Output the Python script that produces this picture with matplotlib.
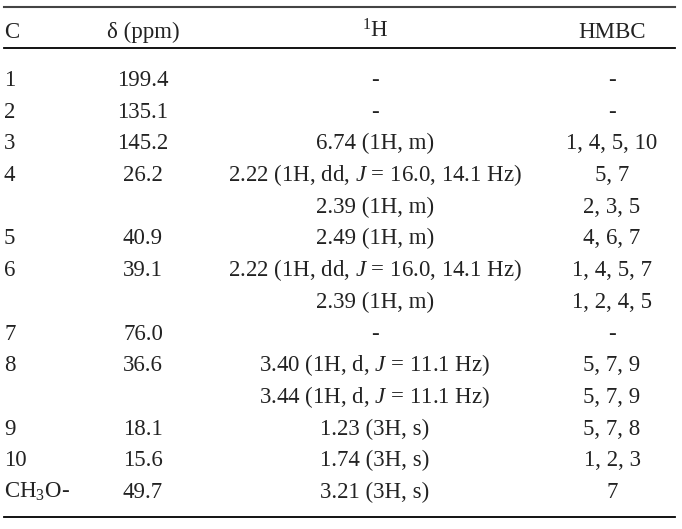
import matplotlib
matplotlib.use('Agg')
import matplotlib.pyplot as plt

plt.rcParams['font.family'] = ['Liberation Serif', 'DejaVu Serif']
plt.rcParams['mathtext.fontset'] = 'custom'
plt.rcParams['mathtext.rm'] = 'Liberation Serif'
plt.rcParams['mathtext.it'] = 'Liberation Serif:italic'

headers = ['C', 'δ (ppm)', '$^{1}$H', 'HMBC']
carbon = ['1', '2', '3', '4', '', '5', '6', '', '7', '8', '', '9', '10', 'CH$_3$O-']
shift = ['199.4', '135.1', '145.2', '26.2', '', '40.9', '39.1', '', '76.0', '36.6', '', '18.1', '15.6', '49.7']
proton = ['-', '-', '6.74 (1H, m)',
          '2.22 (1H, dd, $J$ = 16.0, 14.1 Hz)', '2.39 (1H, m)',
          '2.49 (1H, m)',
          '2.22 (1H, dd, $J$ = 16.0, 14.1 Hz)', '2.39 (1H, m)',
          '-',
          '3.40 (1H, d, $J$ = 11.1 Hz)', '3.44 (1H, d, $J$ = 11.1 Hz)',
          '1.23 (3H, s)', '1.74 (3H, s)', '3.21 (3H, s)']
hmbc = ['-', '-', '1, 4, 5, 10', '5, 7', '2, 3, 5', '4, 6, 7', '1, 4, 5, 7',
        '1, 2, 4, 5', '-', '5, 7, 9', '5, 7, 9', '5, 7, 8', '1, 2, 3', '7']

W, H = 682, 529
fig = plt.figure(figsize=(W / 100, H / 100), dpi=100)
ax = fig.add_axes([0, 0, 1, 1])
ax.set_xlim(0, W)
ax.set_ylim(H, 0)
ax.axis('off')

fs = 16.5
col_x = [4, 143, 375, 612]
col_ha = ['left', 'center', 'center', 'center']

# rules
ax.plot([4, 675], [7, 7], color='#444444', lw=1.5)
ax.plot([4, 675], [48, 48], color='black', lw=1.3)
ax.plot([4, 675], [517, 517], color='black', lw=1.3)

hy = 38  # baseline
for x, ha, t in zip(col_x, col_ha, headers):
    ax.text(x, hy, t, ha=ha, va='baseline', fontsize=fs, color='#222222')

y0, step = 86, 31.7  # baselines
for i in range(len(carbon)):
    y = y0 + i * step
    for x, ha, t in zip(col_x, col_ha, [carbon[i], shift[i], proton[i], hmbc[i]]):
        if t:
            ax.text(x, y, t, ha=ha, va='baseline', fontsize=fs, color='#222222')

fig.savefig('out.png', dpi=100)
